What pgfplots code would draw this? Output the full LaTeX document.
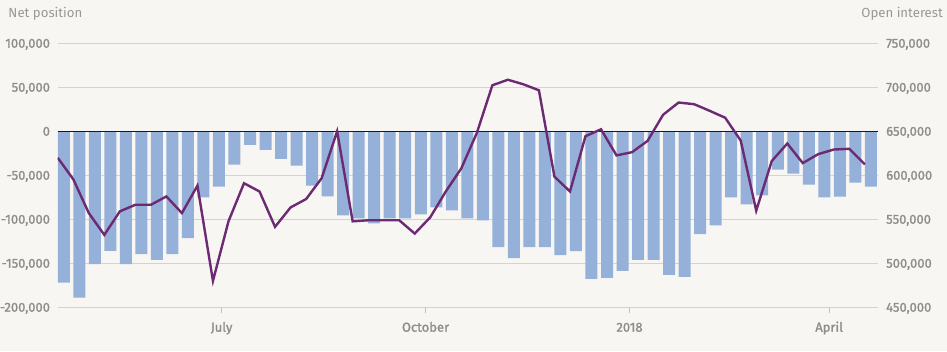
\documentclass[border=0pt]{standalone}
\usepackage{pgfplots}
\usepackage{pgfplotstable}
\pgfplotsset{compat=1.18}
\usepackage{fontspec}
\setmainfont{Fira Sans}
\newfontfamily\medfont{Fira Sans}[FakeBold=1.3]
\definecolor{bg}{HTML}{F8F6F2}
\definecolor{barc}{HTML}{95B1D9}
\definecolor{linec}{HTML}{6C2A73}
\definecolor{gridc}{HTML}{D5D3CF}
\definecolor{txtc}{HTML}{908C88}
\definecolor{titc}{HTML}{9A9794}

\pgfplotstableread{
i net oi
0 -172 619.9
1 -189 595.5
2 -151 557.1
3 -136 532.3
4 -151 559
5 -139.5 566.5
6 -146 566.5
7 -139.5 576
8 -121.4 557
9 -75.2 588.3
10 -62.8 480
11 -38 547.7
12 -15.4 591
13 -21 581.6
14 -31.2 541.4
15 -39.1 563.5
16 -61.7 573
17 -74 596.6
18 -95.5 650
19 -98.9 547.7
20 -104.5 548.9
21 -98.9 548.9
22 -98.9 548.9
23 -94.4 533.8
24 -86.5 552.3
25 -89.8 581.6
26 -98.9 607.9
27 -101.1 648.1
28 -131.6 702.3
29 -144 708.6
30 -131.6 703.4
31 -131.6 696.6
32 -140.6 598.5
33 -136.1 581.6
34 -167.7 644.4
35 -166.5 652.3
36 -158.6 622.6
37 -146.2 626.3
38 -146.2 639.1
39 -163.2 668.8
40 -165.4 682.7
41 -116.9 680.8
42 -106.8 673.3
43 -75.2 665.4
44 -83.1 639.5
45 -72.9 559.8
46 -43.6 616.2
47 -48.1 636.1
48 -60.5 613.9
49 -75.2 624.1
50 -74.1 629.3
51 -58.3 630.1
52 -62.8 612.4
}\datatab

\begin{document}
\begin{tikzpicture}
\fill[bg] (0,0) rectangle (947pt,351pt);
\pgfplotsset{
  base/.style={
    at={(57.7pt,43.7pt)}, anchor=south west,
    scale only axis, width=820pt, height=264pt,
    xmin=-0.39, xmax=52.44,
    axis line style={draw=none},
    major tick length=0pt,
    tick label style={font=\medfont\fontsize{13}{15}\selectfont, text=txtc, inner sep=0pt, text depth=0pt},
  }
}
\begin{axis}[base, clip=false,
  ymin=-200, ymax=100,
  ytick={-200,-150,-100,-50,0,50,100},
  yticklabels={{-200,000},{-150,000},{-100,000},{-50,000},{0},{50,000},{100,000}},
  yticklabel style={anchor=east, xshift=-7.5pt},
  ymajorgrids, grid style={gridc, line width=1.6pt},
  xtick={10.17,23.31,36.45,49.31},
  xticklabels={July,October,2018,April},
  xticklabel style={anchor=base, yshift=-24.4pt},
  ybar, bar width=12pt, bar shift=0pt,
]
\addplot[fill=barc, draw=none] table[x=i, y=net] {\datatab};
\draw[black!90, line width=1.3pt] (axis cs:-0.39,0) -- (axis cs:52.44,0);
\draw[gridc!80!gray, line width=0.9pt] (axis cs:10.17,-200) -- (axis cs:10.17,-207);
\draw[gridc!80!gray, line width=0.9pt] (axis cs:23.31,-200) -- (axis cs:23.31,-207);
\draw[gridc!80!gray, line width=0.9pt] (axis cs:36.45,-200) -- (axis cs:36.45,-207);
\draw[gridc!80!gray, line width=0.9pt] (axis cs:49.31,-200) -- (axis cs:49.31,-207);
\end{axis}
\begin{axis}[base,
  ymin=450, ymax=750,
  ytick={450,500,550,600,650,700,750},
  yticklabels={{450,000},{500,000},{550,000},{600,000},{650,000},{700,000},{750,000}},
  yticklabel pos=right,
  yticklabel style={anchor=west, xshift=8.3pt},
  xtick=\empty,
]
\addplot[linec, line width=2.4pt, mark=none] table[x expr=\thisrow{i}-0.387, y=oi] {\datatab};
\end{axis}
\node[anchor=base west, inner sep=0pt, text=titc, font=\fontsize{13.2}{15}\selectfont] at (8.3pt,333.5pt) {Net position};
\node[anchor=base east, inner sep=0pt, text=titc, font=\fontsize{13.2}{15}\selectfont] at (943pt,333.5pt) {Open interest};
\end{tikzpicture}
\end{document}
